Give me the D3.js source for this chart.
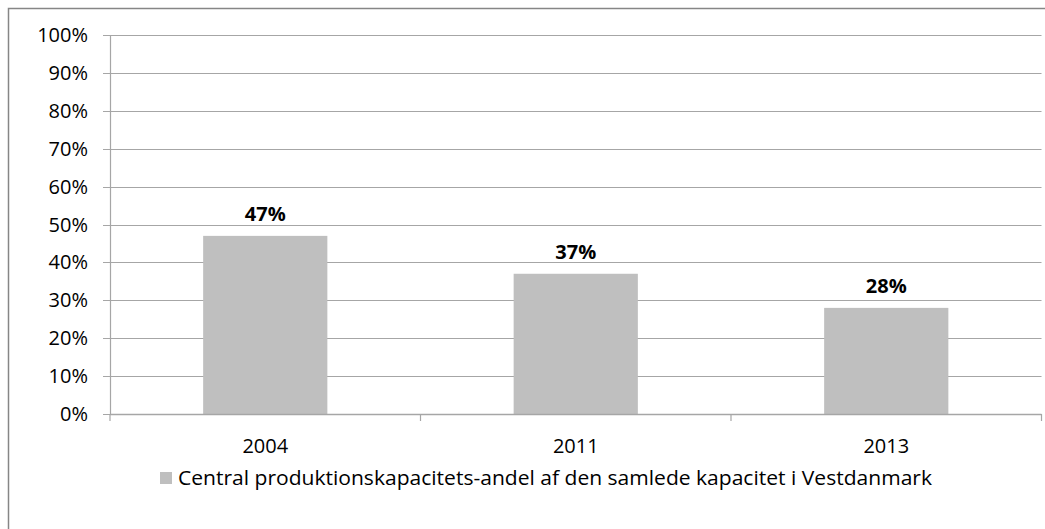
<!DOCTYPE html>
<html>
<head>
<meta charset="UTF-8">
<style>
  body { margin: 0; background: #fff; }
  svg { display: block; font-family: "Open Sans", sans-serif; }
</style>
</head>
<body>
<svg id="chart" width="1045" height="529"></svg>
<script src="https://d3js.org/d3.v7.min.js"></script>
<script>
// data
const years = ["2004", "2011", "2013"];
const shares = [47, 37, 28];
const yTicks = [0, 10, 20, 30, 40, 50, 60, 70, 80, 90, 100];
const seriesName = "Central produktionskapacitets-andel af den samlede kapacitet i Vestdanmark";

let width = 1045, height = 529;
let plotLeft = 110, plotRight = 1041.5, plotTop = 35, plotBottom = 414;

let svg = d3.select("#chart");

// outer frame (only left/top edges fall inside the window)
svg.append("rect")
  .attr("x", 8.5).attr("y", 8.5)
  .attr("width", width).attr("height", height)
  .attr("fill", "none").attr("stroke", "#868686").attr("stroke-width", 1.5);

let x = d3.scaleBand().domain(years).range([plotLeft, plotRight]).paddingInner(0.6).paddingOuter(0.3);
let y = d3.scaleLinear().domain([0, 100]).range([plotBottom, plotTop]);

// gridlines + y tick marks
svg.append("g").selectAll("line")
  .data(yTicks)
  .enter().append("line")
  .attr("x1", plotLeft - 7).attr("x2", plotRight)
  .attr("y1", d => Math.round(y(d)) + 0.5).attr("y2", d => Math.round(y(d)) + 0.5)
  .attr("stroke", "#a6a6a6").attr("stroke-width", 1.2);

// y labels
svg.append("g").selectAll("text")
  .data(yTicks)
  .enter().append("text")
  .attr("x", 88).attr("y", d => y(d))
  .attr("dy", "0.35em")
  .attr("text-anchor", "end")
  .attr("font-size", "20px")
  .attr("fill", "#000")
  .text(d => d + "%");

// y axis line
svg.append("line")
  .attr("x1", plotLeft + 0.5).attr("x2", plotLeft + 0.5)
  .attr("y1", plotTop).attr("y2", plotBottom)
  .attr("stroke", "#a6a6a6").attr("stroke-width", 1.2);

// bars
svg.append("g").selectAll("rect")
  .data(shares)
  .enter().append("rect")
  .attr("x", (d, i) => x(years[i]))
  .attr("width", x.bandwidth())
  .attr("y", d => y(d))
  .attr("height", d => plotBottom - y(d))
  .attr("fill", "#bfbfbf");

// x axis line and category boundary ticks
svg.append("line")
  .attr("x1", plotLeft).attr("x2", plotRight)
  .attr("y1", plotBottom + 0.5).attr("y2", plotBottom + 0.5)
  .attr("stroke", "#a6a6a6").attr("stroke-width", 1.5);

let step = x.step();
svg.append("g").selectAll("line")
  .data(d3.range(years.length + 1))
  .enter().append("line")
  .attr("x1", i => plotLeft + i * step).attr("x2", i => plotLeft + i * step)
  .attr("y1", plotBottom).attr("y2", plotBottom + 7)
  .attr("stroke", "#a6a6a6").attr("stroke-width", 1.2);

// x labels
svg.append("g").selectAll("text")
  .data(years)
  .enter().append("text")
  .attr("x", d => x(d) + x.bandwidth() / 2)
  .attr("y", 446)
  .attr("dy", "0.35em")
  .attr("text-anchor", "middle")
  .attr("font-size", "20px")
  .attr("fill", "#000")
  .text(d => d);

// value labels
svg.append("g").selectAll("text")
  .data(shares)
  .enter().append("text")
  .attr("x", (d, i) => x(years[i]) + x.bandwidth() / 2)
  .attr("y", d => y(d) - 15)
  .attr("text-anchor", "middle")
  .attr("font-size", "20px")
  .attr("font-weight", "bold")
  .attr("fill", "#000")
  .text(d => d + "%");

// legend
svg.append("rect")
  .attr("x", 160).attr("y", 472)
  .attr("width", 12).attr("height", 12)
  .attr("fill", "#bfbfbf");
svg.append("text")
  .attr("x", 178).attr("y", 478)
  .attr("dy", "0.35em")
  .attr("font-size", "20px")
  .attr("fill", "#000")
  .attr("textLength", 754)
  .attr("lengthAdjust", "spacingAndGlyphs")
  .text(seriesName);
</script>
</body>
</html>
